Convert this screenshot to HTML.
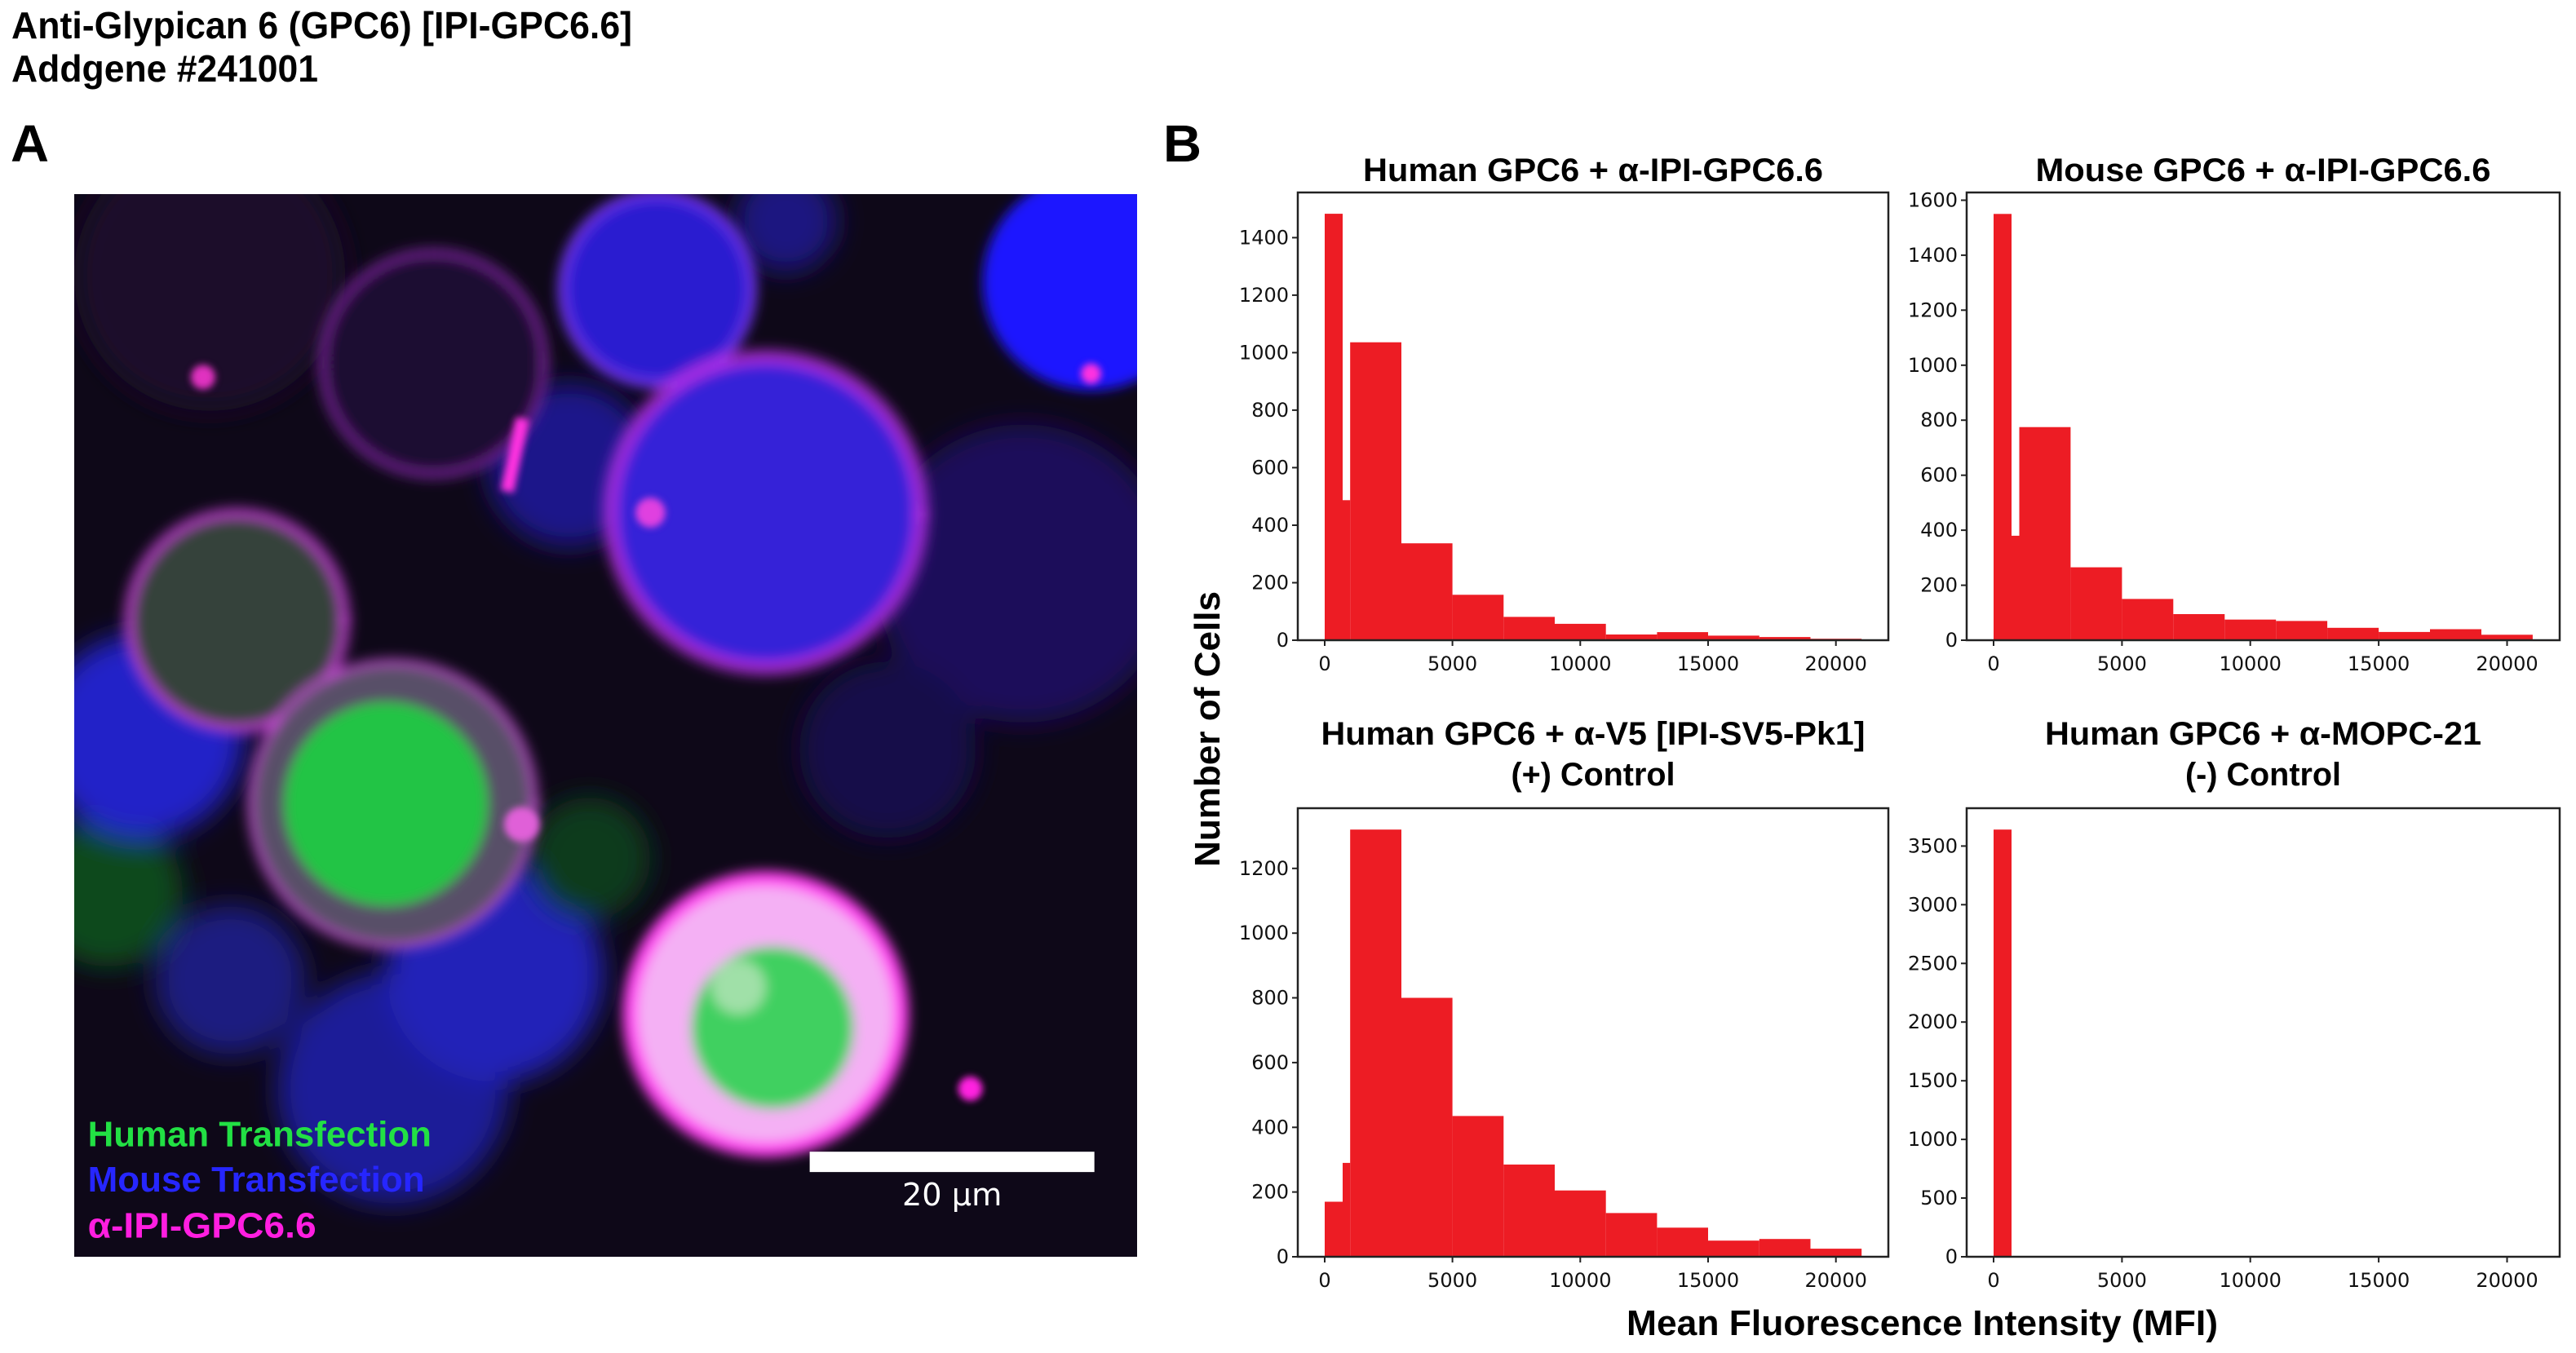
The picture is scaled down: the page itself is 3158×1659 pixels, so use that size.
<!DOCTYPE html>
<html><head><meta charset="utf-8"><style>
html,body{margin:0;padding:0;background:#fff;}
svg{display:block;}
.t{font-family:"Liberation Sans",sans-serif;}
.k{font-family:"DejaVu Sans","Liberation Sans",sans-serif;font-size:24px;fill:#111;}
</style></head><body>
<svg width="3158" height="1659" viewBox="0 0 3158 1659" xmlns="http://www.w3.org/2000/svg">
<rect width="3158" height="1659" fill="#fff"/>
<text class="t" x="14" y="47" font-size="46" font-weight="bold" textLength="761" lengthAdjust="spacingAndGlyphs">Anti-Glypican 6 (GPC6) [IPI-GPC6.6]</text>
<text class="t" x="14" y="100" font-size="46" font-weight="bold" textLength="376" lengthAdjust="spacingAndGlyphs">Addgene #241001</text>
<text class="t" x="13" y="198" font-size="64" font-weight="bold" textLength="47" lengthAdjust="spacingAndGlyphs">A</text>
<text class="t" x="1426" y="198" font-size="64" font-weight="bold" textLength="47" lengthAdjust="spacingAndGlyphs">B</text>

<!-- Panel A micrograph -->
<svg x="91" y="238" width="1303" height="1303" viewBox="0 0 1568 1568">
<defs>
<filter id="b1" x="-50%" y="-50%" width="200%" height="200%"><feGaussianBlur stdDeviation="20"/></filter>
<filter id="b3" x="-50%" y="-50%" width="200%" height="200%"><feGaussianBlur stdDeviation="9"/></filter>
<filter id="b2" x="-50%" y="-50%" width="200%" height="200%"><feGaussianBlur stdDeviation="5"/></filter>
</defs>
<rect width="1568" height="1568" fill="#0e0818"/>
<g filter="url(#b1)">
<circle cx="200" cy="120" r="200" fill="#1a0a2a"/>
<circle cx="1400" cy="560" r="220" fill="#1a0f5a"/>
<circle cx="1200" cy="820" r="130" fill="#150f48"/>
<circle cx="1050" cy="40" r="75" fill="#1e1580"/>
<circle cx="730" cy="400" r="120" fill="#1e168a"/>
<circle cx="50" cy="1030" r="110" fill="#0f4a1e"/>
<circle cx="100" cy="800" r="150" fill="#2020c8"/>
<circle cx="230" cy="1160" r="110" fill="#1a1a80"/>
<circle cx="470" cy="1320" r="170" fill="#1a1a98"/>
<circle cx="620" cy="1150" r="160" fill="#2222b8"/>
<circle cx="760" cy="980" r="90" fill="#0f3a1a"/>
</g>
<g filter="url(#b3)">
<circle cx="530" cy="250" r="165" fill="#1a0a30" stroke="#8a2ab0" stroke-width="14" stroke-dasharray="6 5"/>
<circle cx="860" cy="140" r="140" fill="#2a1fd0" stroke="#6a30e8" stroke-width="14"/>
<circle cx="1500" cy="130" r="160" fill="#1c14ff"/>
<circle cx="1020" cy="470" r="230" fill="#3424d8" stroke="#c030e8" stroke-width="24" stroke-dasharray="10 6"/>
<circle cx="240" cy="630" r="160" fill="#34423a" stroke="#d040e0" stroke-width="18" stroke-dasharray="8 6"/>
<circle cx="470" cy="900" r="210" fill="#585068" stroke="#d050e0" stroke-width="14" stroke-dasharray="8 8"/>
<circle cx="460" cy="900" r="150" fill="#22c444"/>
<circle cx="1020" cy="1210" r="200" fill="#f4b0f4" stroke="#ff40f0" stroke-width="22"/>
<circle cx="1030" cy="1230" r="120" fill="#40d060"/>
<circle cx="980" cy="1170" r="40" fill="#a0e0a8"/>
</g>
<g filter="url(#b2)">
<circle cx="1322" cy="1320" r="18" fill="#ff20e0"/>
<rect x="640" y="330" width="20" height="110" fill="#ff30e0" transform="rotate(12 650 385)"/>
<circle cx="190" cy="270" r="18" fill="#e030c0"/>
<circle cx="1500" cy="265" r="15" fill="#ff30e0"/>
<circle cx="850" cy="470" r="22" fill="#e040e0"/>
<circle cx="660" cy="930" r="26" fill="#e060d8"/>
</g>
<rect x="1085" y="1413" width="420" height="30" fill="#fff"/>
<text x="1295" y="1492" text-anchor="middle" font-family="DejaVu Sans,sans-serif" font-size="46" fill="#fff">20 µm</text>
<text class="t" x="20" y="1405" font-size="52" font-weight="bold" fill="#22e044" textLength="507" lengthAdjust="spacingAndGlyphs">Human Transfection</text>
<text class="t" x="20" y="1472" font-size="52" font-weight="bold" fill="#2626ff" textLength="497" lengthAdjust="spacingAndGlyphs">Mouse Transfection</text>
<text class="t" x="20" y="1540" font-size="52" font-weight="bold" fill="#ff1ee0" textLength="337" lengthAdjust="spacingAndGlyphs">α-IPI-GPC6.6</text>
</svg>

<!-- ===== Top-left ===== -->
<text class="t" x="1953" y="222" font-size="40" font-weight="bold" text-anchor="middle" textLength="564" lengthAdjust="spacingAndGlyphs">Human GPC6 + α-IPI-GPC6.6</text>
<g fill="#ed1c24">
<rect x="1624" y="262.1" width="22" height="522.9"/>
<rect x="1646" y="613.3" width="9.2" height="171.7"/>
<rect x="1655.2" y="419.7" width="62.8" height="365.3"/>
<rect x="1718" y="666.2" width="62.6" height="118.8"/>
<rect x="1780.6" y="729.3" width="62.7" height="55.7"/>
<rect x="1843.3" y="756.4" width="62.7" height="28.6"/>
<rect x="1906" y="764.9" width="62.7" height="20.1"/>
<rect x="1968.7" y="778" width="62.7" height="7"/>
<rect x="2031.4" y="775.1" width="62.6" height="9.9"/>
<rect x="2094" y="779.4" width="62.8" height="5.6"/>
<rect x="2156.8" y="781.1" width="62.7" height="3.9"/>
<rect x="2219.5" y="783.2" width="62.7" height="1.8"/>
</g>
<rect x="1591" y="236" width="724" height="549" fill="none" stroke="#222" stroke-width="2.5"/>
<g stroke="#222" stroke-width="2">
<line x1="1584" y1="785" x2="1591" y2="785"/><line x1="1584" y1="714.5" x2="1591" y2="714.5"/><line x1="1584" y1="644" x2="1591" y2="644"/><line x1="1584" y1="573.4" x2="1591" y2="573.4"/><line x1="1584" y1="502.9" x2="1591" y2="502.9"/><line x1="1584" y1="432.4" x2="1591" y2="432.4"/><line x1="1584" y1="361.9" x2="1591" y2="361.9"/><line x1="1584" y1="291.4" x2="1591" y2="291.4"/>
<line x1="1624" y1="785" x2="1624" y2="792"/><line x1="1780.6" y1="785" x2="1780.6" y2="792"/><line x1="1937.3" y1="785" x2="1937.3" y2="792"/><line x1="2094" y1="785" x2="2094" y2="792"/><line x1="2250.7" y1="785" x2="2250.7" y2="792"/>
</g>
<g class="k" text-anchor="end">
<text x="1580" y="793">0</text><text x="1580" y="722.5">200</text><text x="1580" y="652">400</text><text x="1580" y="581.4">600</text><text x="1580" y="510.9">800</text><text x="1580" y="440.4">1000</text><text x="1580" y="369.9">1200</text><text x="1580" y="299.4">1400</text>
</g>
<g class="k" text-anchor="middle">
<text x="1624" y="822">0</text><text x="1780.6" y="822">5000</text><text x="1937.3" y="822">10000</text><text x="2094" y="822">15000</text><text x="2250.7" y="822">20000</text>
</g>

<!-- ===== Top-right ===== -->
<text class="t" x="2774.5" y="222" font-size="40" font-weight="bold" text-anchor="middle" textLength="558" lengthAdjust="spacingAndGlyphs">Mouse GPC6 + α-IPI-GPC6.6</text>
<g fill="#ed1c24">
<rect x="2444" y="262.3" width="22" height="522.7"/>
<rect x="2466" y="656.9" width="9.5" height="128.1"/>
<rect x="2475.5" y="523.7" width="62.9" height="261.3"/>
<rect x="2538.4" y="695.6" width="63" height="89.4"/>
<rect x="2601.4" y="734.4" width="62.9" height="50.6"/>
<rect x="2664.3" y="753" width="63" height="32"/>
<rect x="2727.3" y="759.7" width="62.9" height="25.3"/>
<rect x="2790.2" y="761.4" width="62.9" height="23.6"/>
<rect x="2853.1" y="769.8" width="63" height="15.2"/>
<rect x="2916.1" y="774.9" width="62.9" height="10.1"/>
<rect x="2979" y="771.5" width="63" height="13.5"/>
<rect x="3042" y="778.3" width="62.9" height="6.7"/>
</g>
<rect x="2411" y="236" width="727" height="549" fill="none" stroke="#222" stroke-width="2.5"/>
<g stroke="#222" stroke-width="2">
<line x1="2404" y1="785" x2="2411" y2="785"/><line x1="2404" y1="717.6" x2="2411" y2="717.6"/><line x1="2404" y1="650.1" x2="2411" y2="650.1"/><line x1="2404" y1="582.7" x2="2411" y2="582.7"/><line x1="2404" y1="515.2" x2="2411" y2="515.2"/><line x1="2404" y1="447.8" x2="2411" y2="447.8"/><line x1="2404" y1="380.3" x2="2411" y2="380.3"/><line x1="2404" y1="312.9" x2="2411" y2="312.9"/><line x1="2404" y1="245.5" x2="2411" y2="245.5"/>
<line x1="2444" y1="785" x2="2444" y2="792"/><line x1="2601.4" y1="785" x2="2601.4" y2="792"/><line x1="2758.7" y1="785" x2="2758.7" y2="792"/><line x1="2916.1" y1="785" x2="2916.1" y2="792"/><line x1="3073.5" y1="785" x2="3073.5" y2="792"/>
</g>
<g class="k" text-anchor="end">
<text x="2400" y="793">0</text><text x="2400" y="725.6">200</text><text x="2400" y="658.1">400</text><text x="2400" y="590.7">600</text><text x="2400" y="523.2">800</text><text x="2400" y="455.8">1000</text><text x="2400" y="388.3">1200</text><text x="2400" y="320.9">1400</text><text x="2400" y="253.5">1600</text>
</g>
<g class="k" text-anchor="middle">
<text x="2444" y="822">0</text><text x="2601.4" y="822">5000</text><text x="2758.7" y="822">10000</text><text x="2916.1" y="822">15000</text><text x="3073.5" y="822">20000</text>
</g>

<!-- ===== Bottom-left ===== -->
<text class="t" x="1953" y="913" font-size="40" font-weight="bold" text-anchor="middle" textLength="667" lengthAdjust="spacingAndGlyphs">Human GPC6 + α-V5 [IPI-SV5-Pk1]</text>
<text class="t" x="1953" y="963" font-size="40" font-weight="bold" text-anchor="middle" textLength="201" lengthAdjust="spacingAndGlyphs">(+) Control</text>
<g fill="#ed1c24">
<rect x="1624" y="1473.5" width="22" height="67.5"/>
<rect x="1646" y="1425.9" width="9.2" height="115.1"/>
<rect x="1655.2" y="1017.2" width="62.8" height="523.8"/>
<rect x="1718" y="1223.5" width="62.6" height="317.5"/>
<rect x="1780.6" y="1368.4" width="62.7" height="172.6"/>
<rect x="1843.3" y="1427.9" width="62.7" height="113.1"/>
<rect x="1906" y="1459.7" width="62.7" height="81.3"/>
<rect x="1968.7" y="1487.4" width="62.7" height="53.6"/>
<rect x="2031.4" y="1505.3" width="62.6" height="35.7"/>
<rect x="2094" y="1521.2" width="62.8" height="19.8"/>
<rect x="2156.8" y="1519.2" width="62.7" height="21.8"/>
<rect x="2219.5" y="1531.1" width="62.7" height="9.9"/>
</g>
<rect x="1591" y="991" width="724" height="550" fill="none" stroke="#222" stroke-width="2.5"/>
<g stroke="#222" stroke-width="2">
<line x1="1584" y1="1541" x2="1591" y2="1541"/><line x1="1584" y1="1461.6" x2="1591" y2="1461.6"/><line x1="1584" y1="1382.3" x2="1591" y2="1382.3"/><line x1="1584" y1="1302.9" x2="1591" y2="1302.9"/><line x1="1584" y1="1223.5" x2="1591" y2="1223.5"/><line x1="1584" y1="1144.2" x2="1591" y2="1144.2"/><line x1="1584" y1="1064.8" x2="1591" y2="1064.8"/>
<line x1="1624" y1="1541" x2="1624" y2="1548"/><line x1="1780.6" y1="1541" x2="1780.6" y2="1548"/><line x1="1937.3" y1="1541" x2="1937.3" y2="1548"/><line x1="2094" y1="1541" x2="2094" y2="1548"/><line x1="2250.7" y1="1541" x2="2250.7" y2="1548"/>
</g>
<g class="k" text-anchor="end">
<text x="1580" y="1549">0</text><text x="1580" y="1469.6">200</text><text x="1580" y="1390.3">400</text><text x="1580" y="1310.9">600</text><text x="1580" y="1231.5">800</text><text x="1580" y="1152.2">1000</text><text x="1580" y="1072.8">1200</text>
</g>
<g class="k" text-anchor="middle">
<text x="1624" y="1578">0</text><text x="1780.6" y="1578">5000</text><text x="1937.3" y="1578">10000</text><text x="2094" y="1578">15000</text><text x="2250.7" y="1578">20000</text>
</g>

<!-- ===== Bottom-right ===== -->
<text class="t" x="2774.5" y="913" font-size="40" font-weight="bold" text-anchor="middle" textLength="535" lengthAdjust="spacingAndGlyphs">Human GPC6 + α-MOPC-21</text>
<text class="t" x="2774.5" y="963" font-size="40" font-weight="bold" text-anchor="middle" textLength="191" lengthAdjust="spacingAndGlyphs">(-) Control</text>
<rect x="2444" y="1017.2" width="22" height="523.8" fill="#ed1c24"/>
<rect x="2411" y="991" width="727" height="550" fill="none" stroke="#222" stroke-width="2.5"/>
<g stroke="#222" stroke-width="2">
<line x1="2404" y1="1541" x2="2411" y2="1541"/><line x1="2404" y1="1469" x2="2411" y2="1469"/><line x1="2404" y1="1397.1" x2="2411" y2="1397.1"/><line x1="2404" y1="1325.2" x2="2411" y2="1325.2"/><line x1="2404" y1="1253.2" x2="2411" y2="1253.2"/><line x1="2404" y1="1181.3" x2="2411" y2="1181.3"/><line x1="2404" y1="1109.3" x2="2411" y2="1109.3"/><line x1="2404" y1="1037.4" x2="2411" y2="1037.4"/>
<line x1="2444" y1="1541" x2="2444" y2="1548"/><line x1="2601.4" y1="1541" x2="2601.4" y2="1548"/><line x1="2758.7" y1="1541" x2="2758.7" y2="1548"/><line x1="2916.1" y1="1541" x2="2916.1" y2="1548"/><line x1="3073.5" y1="1541" x2="3073.5" y2="1548"/>
</g>
<g class="k" text-anchor="end">
<text x="2400" y="1549">0</text><text x="2400" y="1477">500</text><text x="2400" y="1405.1">1000</text><text x="2400" y="1333.2">1500</text><text x="2400" y="1261.2">2000</text><text x="2400" y="1189.3">2500</text><text x="2400" y="1117.3">3000</text><text x="2400" y="1045.4">3500</text>
</g>
<g class="k" text-anchor="middle">
<text x="2444" y="1578">0</text><text x="2601.4" y="1578">5000</text><text x="2758.7" y="1578">10000</text><text x="2916.1" y="1578">15000</text><text x="3073.5" y="1578">20000</text>
</g>

<!-- axis labels -->
<text class="t" transform="translate(1495 894) rotate(-90)" font-size="44" font-weight="bold" text-anchor="middle" textLength="338" lengthAdjust="spacingAndGlyphs">Number of Cells</text>
<text class="t" x="1994" y="1637" font-size="44" font-weight="bold" textLength="725" lengthAdjust="spacingAndGlyphs">Mean Fluorescence Intensity (MFI)</text>
</svg>
</body></html>
